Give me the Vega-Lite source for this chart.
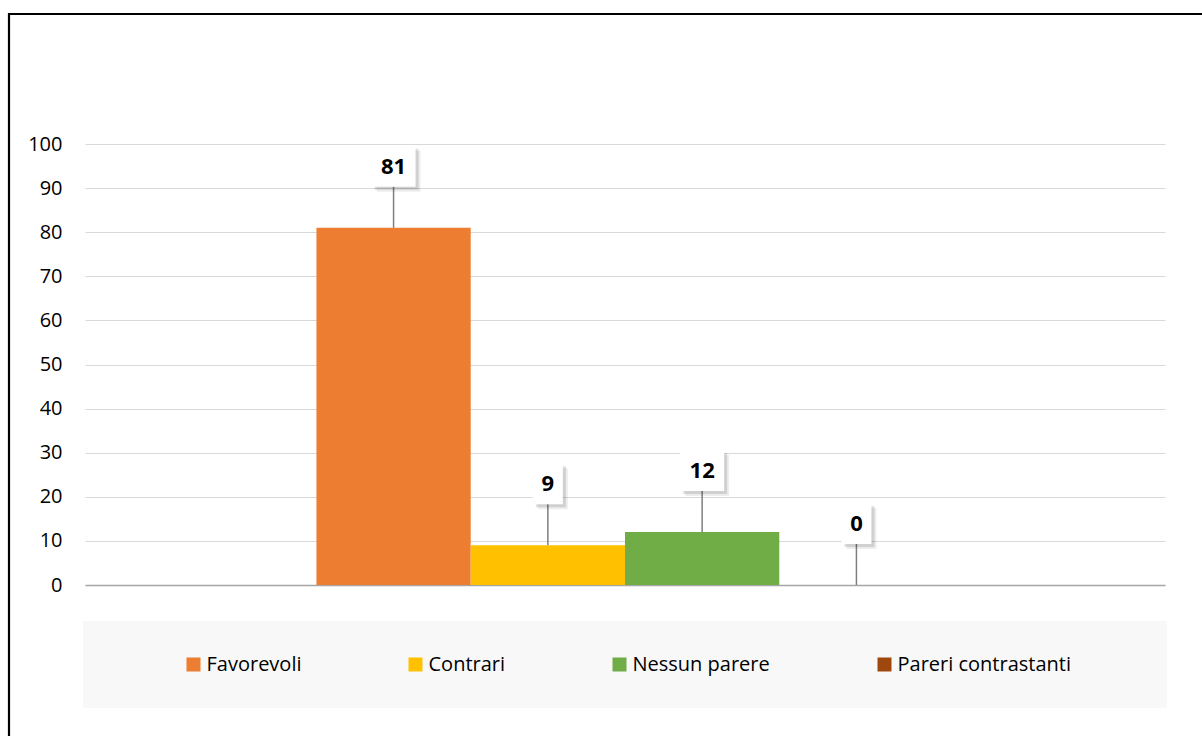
{
  "$schema": "https://vega.github.io/schema/vega-lite/v6.json",
  "width": 1196,
  "height": 725,
  "autosize": {"type": "none"},
  "padding": {"left": 9, "top": 14, "right": -3, "bottom": -3},
  "background": "#ffffff",
  "config": {
    "font": "Open Sans",
    "view": {"stroke": "#000000", "strokeWidth": 2.2, "fill": "#ffffff"}
  },
  "data": {
    "values": [
      {"series": "Favorevoli", "value": 81},
      {"series": "Contrari", "value": 9},
      {"series": "Nessun parere", "value": 12},
      {"series": "Pareri contrastanti", "value": 0}
    ]
  },
  "encoding": {
    "x": {
      "field": "series",
      "type": "nominal",
      "sort": null,
      "scale": {
        "type": "band",
        "domain": ["_left", "Favorevoli", "Contrari", "Nessun parere", "Pareri contrastanti", "_right"],
        "range": [76, 1156],
        "paddingInner": 0,
        "paddingOuter": 0.5
      },
      "axis": {
        "orient": "bottom",
        "offset": -154,
        "labels": false,
        "ticks": false,
        "grid": false,
        "domain": true,
        "domainColor": "#a6a6a6",
        "domainWidth": 1.5,
        "title": null
      }
    },
    "y": {
      "field": "value",
      "type": "quantitative",
      "scale": {"domain": [0, 100], "range": [571, 130], "nice": false, "zero": true},
      "axis": {
        "orient": "left",
        "offset": -76,
        "values": [0, 10, 20, 30, 40, 50, 60, 70, 80, 90, 100],
        "domain": false,
        "ticks": false,
        "tickSize": 0,
        "grid": true,
        "gridColor": "#d9d9d9",
        "gridWidth": 1,
        "labelPadding": 23,
        "labelFont": "Open Sans",
        "labelFontSize": 20,
        "labelColor": "#000000",
        "title": null
      }
    }
  },
  "layer": [
    {
      "mark": {"type": "bar", "width": {"band": 1}},
      "encoding": {
        "color": {
          "field": "series",
          "type": "nominal",
          "sort": null,
          "scale": {
            "domain": ["Favorevoli", "Contrari", "Nessun parere", "Pareri contrastanti"],
            "range": ["#ED7D31", "#FFC000", "#70AD47", "#9E480E"]
          },
          "legend": {
            "orient": "none",
            "legendX": 74,
            "legendY": 607,
            "direction": "horizontal",
            "title": " ",
            "titleOrient": "left",
            "titlePadding": 67,
            "titleFontSize": 20,
            "fillColor": "#f8f8f8",
            "padding": 33.5,
            "symbolType": "square",
            "symbolSize": 196,
            "symbolStrokeWidth": 0,
            "symbolOpacity": 1,
            "labelFont": "Open Sans",
            "labelFontSize": 20,
            "labelColor": "#000000",
            "labelOffset": 3,
            "labelLimit": 500,
            "columnPadding": 104,
            "labelExpr": "datum.label == 'Pareri contrastanti' ? datum.label + '\u00a0\u00a0\u00a0\u00a0\u00a0\u00a0\u00a0\u00a0\u00a0\u00a0\u00a0\u00a0\u200b' : datum.label"
          }
        }
      }
    },
    {
      "mark": {"type": "rule", "color": "#7f7f7f", "strokeWidth": 1.5, "y2Offset": -41},
      "encoding": {
        "y2": {"field": "value"}
      }
    },
    {
      "mark": {"type": "bar", "color": "#000000", "opacity": 0.07, "yOffset": -77, "y2Offset": -36, "xOffset": 5},
      "encoding": {
        "y2": {"field": "value"},
        "size": {"condition": {"test": "datum.value >= 10", "value": 44}, "value": 30}
      }
    },
    {
      "mark": {"type": "bar", "color": "#000000", "opacity": 0.12, "yOffset": -79, "y2Offset": -38, "xOffset": 3},
      "encoding": {
        "y2": {"field": "value"},
        "size": {"condition": {"test": "datum.value >= 10", "value": 44}, "value": 30}
      }
    },
    {
      "mark": {"type": "bar", "color": "#ffffff", "opacity": 1, "yOffset": -82, "y2Offset": -41},
      "encoding": {
        "y2": {"field": "value"},
        "size": {"condition": {"test": "datum.value >= 10", "value": 44}, "value": 30}
      }
    },
    {
      "mark": {"type": "text", "font": "Open Sans", "fontWeight": "bold", "fontSize": 22, "color": "#000000", "baseline": "middle", "align": "center", "yOffset": -61},
      "encoding": {
        "text": {"field": "value", "type": "quantitative"}
      }
    }
  ]
}
